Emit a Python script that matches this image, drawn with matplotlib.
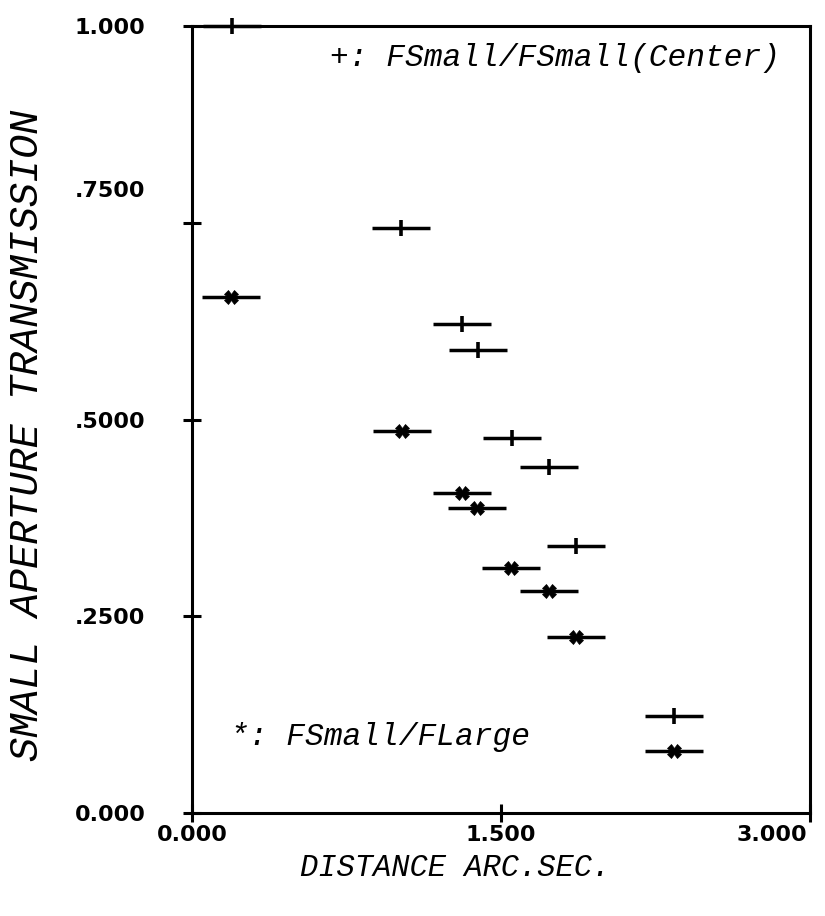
import numpy as np
import matplotlib
matplotlib.use("Agg")
import matplotlib.pyplot as plt
from matplotlib.transforms import ScaledTranslation

# FSmall / FSmall(Center)  -> "+" markers
dist_plus = [0.194, 1.015, 1.311, 1.388, 1.553, 1.733, 1.864, 2.340]
trans_plus = [1.000, 0.743, 0.621, 0.588, 0.476, 0.440, 0.339, 0.123]
err_plus = [0.14, 0.14, 0.14, 0.14, 0.14, 0.14, 0.14, 0.14]

# FSmall / FLarge -> "x" markers
dist_x = [0.189, 1.019, 1.311, 1.383, 1.549, 1.733, 1.864, 2.340]
trans_x = [0.656, 0.485, 0.407, 0.388, 0.311, 0.282, 0.224, 0.079]
err_x = [0.14, 0.14, 0.14, 0.14, 0.14, 0.14, 0.14, 0.14]

xticks = [0.0, 1.5, 3.0]
xticklabels = ["0.000", "1.500", "3.000"]
yticks = [0.0, 0.25, 0.5, 0.75, 1.0]
yticklabels = ["0.000", ".2500", ".5000", ".7500", "1.000"]

mono = ["Liberation Mono", "DejaVu Sans Mono"]

fig = plt.figure(figsize=(8.25, 9.16), dpi=100)
ax = fig.add_axes([192 / 825, 1 - 813 / 916, 618 / 825, 787 / 916])

ax.errorbar(dist_plus, trans_plus, xerr=err_plus, fmt="none", ecolor="black",
            elinewidth=2.5, capsize=0, clip_on=False)
ax.plot(dist_plus, trans_plus, ls="none", marker="|", ms=12, mew=2.6,
        color="black", clip_on=False)
ax.errorbar(dist_x, trans_x, xerr=err_x, fmt="none", ecolor="black",
            elinewidth=2.5, capsize=0)
ax.plot(dist_x, trans_x, ls="none", marker="X", ms=10, mew=0.5,
        color="black")

ax.set_xlim(0, 3)
ax.set_ylim(0, 1)
ax.set_xticks(xticks)
ax.set_xticklabels(xticklabels)
ax.set_yticks(yticks)
ax.set_yticklabels(yticklabels)

for s in ax.spines.values():
    s.set_linewidth(2.2)
ax.tick_params(direction="inout", length=13, width=2.2)
ax.tick_params(axis="y", pad=27)
ax.tick_params(axis="x", pad=2)
for lab in ax.get_xticklabels() + ax.get_yticklabels():
    lab.set_fontweight("bold")
    lab.set_fontsize(16)
    lab.set_family("DejaVu Sans")

# the plotter put some labels off their ticks
ax.get_xticklabels()[2].set_transform(
    ax.get_xticklabels()[2].get_transform() + ScaledTranslation(-0.38, 0, fig.dpi_scale_trans))
ax.get_yticklabels()[3].set_transform(
    ax.get_yticklabels()[3].get_transform() + ScaledTranslation(0, 0.34, fig.dpi_scale_trans))

ax.set_xlabel("DISTANCE ARC.SEC.", family=mono, style="italic", fontsize=22, va="center")
ax.xaxis.set_label_coords(0.426, -0.070)
ax.set_ylabel("SMALL APERTURE TRANSMISSION", family=mono, style="italic", fontsize=29,
              va="center")
ax.yaxis.set_label_coords(-0.267, 0.48)

ax.text(0.951, 0.959, "+: FSmall/FSmall(Center)", transform=ax.transAxes, ha="right",
        va="center", family=mono, style="italic", fontsize=22.5)
ax.text(0.061, 0.097, "*: FSmall/FLarge", transform=ax.transAxes, ha="left",
        va="center", family=mono, style="italic", fontsize=22.5)

fig.savefig("out.png", dpi=100)
